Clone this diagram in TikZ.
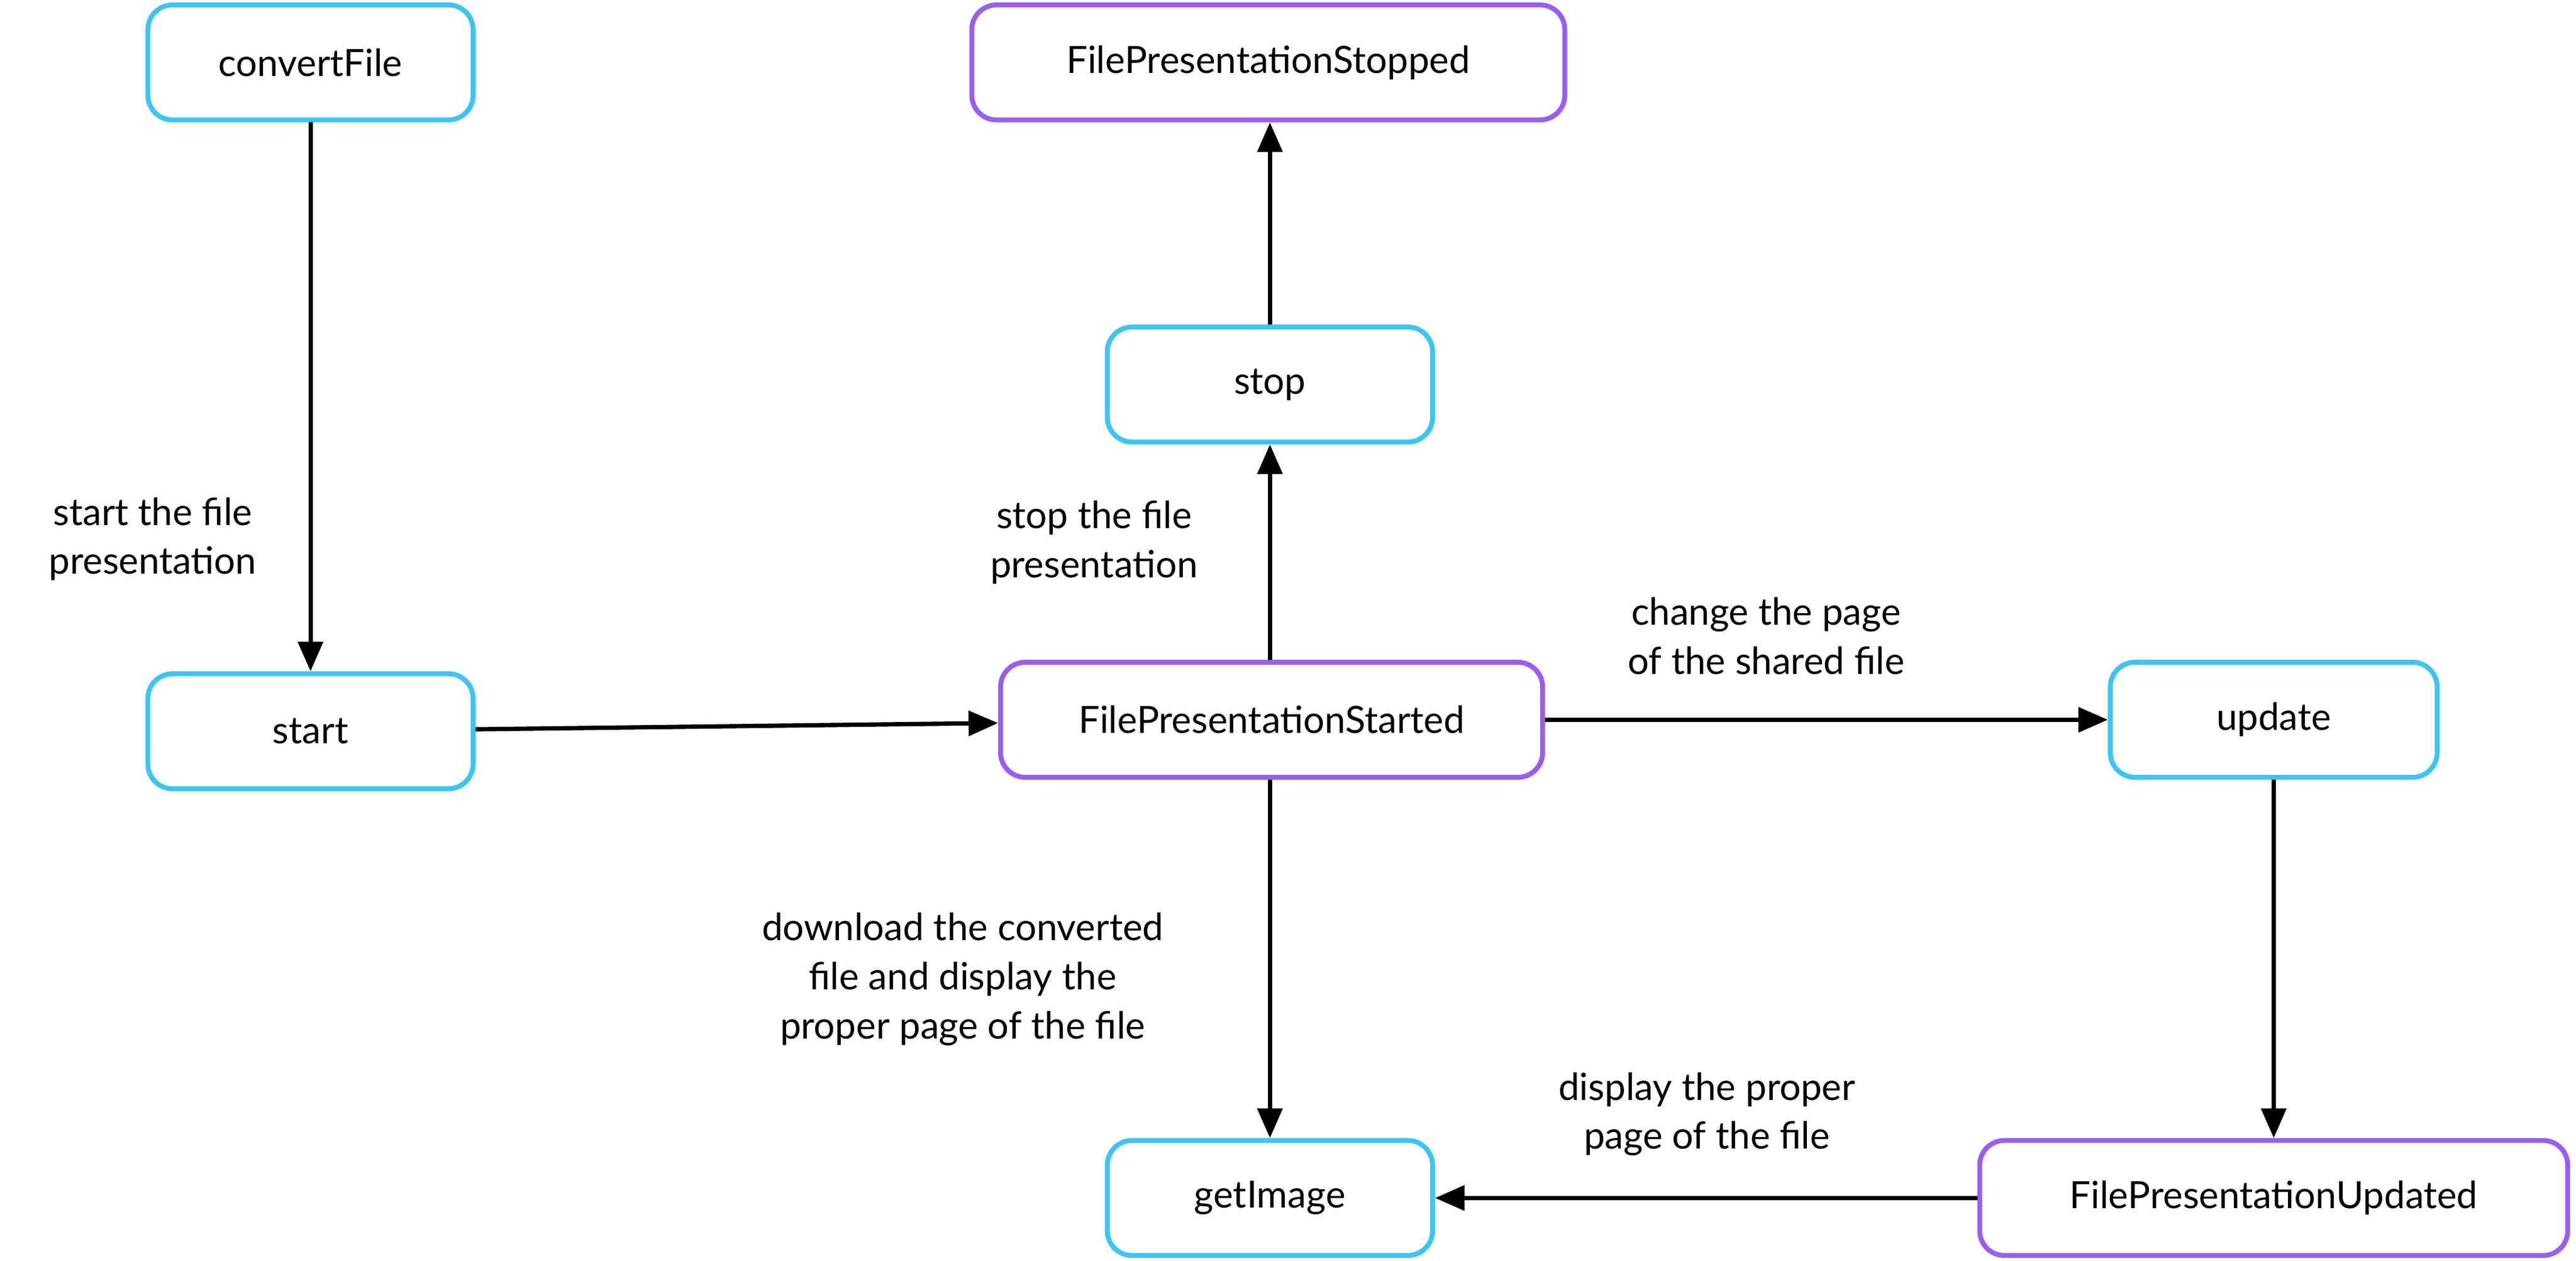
\documentclass[tikz,border=0pt]{standalone}
\usepackage{fontspec}
\setmainfont{Lato}
\usetikzlibrary{arrows.meta}
\definecolor{cy}{HTML}{3CC4F5}
\definecolor{pu}{HTML}{9B5CF2}
\begin{document}
\begin{tikzpicture}[x=0.02cm,y=-0.02cm,
  box/.style={draw=#1,line width=1.7pt,rounded corners=0.3cm,minimum height=1.4cm,font=\fontsize{13}{15}\selectfont,inner sep=0},
  lab/.style={align=center,font=\fontsize{13}{17}\selectfont},
  arr/.style={-{Triangle[length=0.36cm,width=0.3cm]},line width=1.5pt}]
\useasboundingbox (0,0) rectangle (1568,767);
\node[box=cy,minimum width=3.96cm] (cf) at (189,38) {convertFile};
\node[box=pu,minimum width=7.22cm] (fps) at (772,38) {FilePresentationStopped};
\node[box=cy,minimum width=3.96cm] (stop) at (773,234) {stop};
\node[box=cy,minimum width=3.96cm] (start) at (189,445) {start};
\node[box=pu,minimum width=6.6cm] (fpst) at (774,438) {FilePresentationStarted};
\node[box=cy,minimum width=3.98cm] (upd) at (1384,438) {update};
\node[box=cy,minimum width=3.96cm] (gi) at (773,729) {getImage};
\node[box=pu,minimum width=7.16cm] (fpu) at (1384,729) {FilePresentationUpdated};
\draw[arr] (cf) -- (start);
\draw[arr] (start) -- (fpst);
\draw[arr] (fpst.north -| stop) -- (stop);
\draw[arr] (stop) -- (fps.south -| stop);
\draw[arr] (fpst) -- (upd);
\draw[arr] (fpst.south -| gi) -- (gi);
\draw[arr] (upd) -- (fpu);
\draw[arr] (fpu) -- (gi);
\node[lab] (l1) at (93,328) {start the file\\presentation};
\node[lab] (l2) at (666,330) {stop the file\\presentation};
\node[lab] (l3) at (1075,387) {change the page\\of the shared file};
\node[lab] (l4) at (586,596) {download the converted\\file and display the\\proper page of the file};
\node[lab] (l5) at (1039,678) {display the proper\\page of the file};
\end{tikzpicture}
\end{document}
